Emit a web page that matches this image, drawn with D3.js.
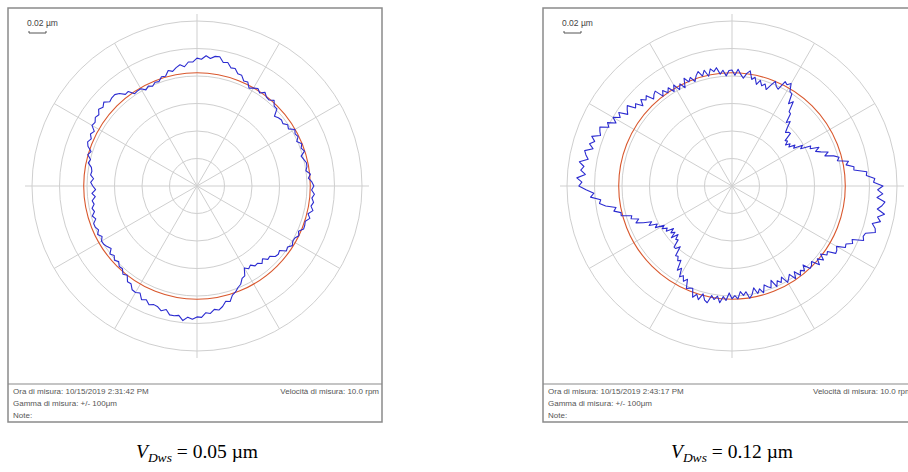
<!DOCTYPE html>
<html><head><meta charset="utf-8">
<script src="https://cdn.jsdelivr.net/npm/d3@7"></script>
<style>body{margin:0;background:#fff}svg{display:block}</style>
</head><body>
<svg id="chart" width="908" height="472"></svg>
<script>
// ---------- data ----------
const ringLevels = [1, 2, 3, 4, 5, 6];
const spokeAngles = [0, 30, 60, 90, 120, 150, 180, 210, 240, 270, 300, 330];
const referenceRadius = [4.12, 4.12];
// radial profile, left panel (2 deg steps, clockwise from top), in ring units
const profileLeft = [
 4.65,4.61,4.75,4.66,4.76,4.77,4.59,4.63,4.47,4.49,4.34,4.34,4.18,4.21,4.03,4.11,4.18,4.08,4.21,4.10,
 4.08,4.19,4.04,4.04,3.79,3.86,3.90,3.86,3.98,3.92,4.11,4.04,4.09,3.97,4.11,4.03,4.11,3.94,4.00,4.07,
 4.06,4.00,4.15,4.06,4.18,4.25,4.17,4.28,4.20,4.28,4.21,4.31,4.16,4.27,4.14,4.17,4.18,4.04,4.12,4.03,
 4.02,4.09,3.97,4.02,3.81,3.86,3.83,3.68,3.71,3.56,3.68,3.57,3.59,3.47,3.55,3.44,3.70,3.74,3.91,3.98,
 4.10,4.17,4.37,4.32,4.48,4.58,4.53,4.66,4.62,4.78,4.76,4.85,4.78,4.92,4.75,4.79,4.79,4.63,4.72,4.62,
 4.59,4.66,4.53,4.60,4.41,4.47,4.45,4.29,4.30,4.12,4.19,4.05,4.07,3.96,4.04,3.93,4.02,3.86,3.94,4.00,
 4.01,3.91,4.02,3.92,3.99,4.00,3.87,3.96,3.84,3.90,3.80,3.85,3.72,3.83,3.69,3.79,3.87,3.77,3.89,3.86,
 3.90,4.04,3.99,4.13,4.05,4.22,4.29,4.21,4.31,4.23,4.41,4.37,4.46,4.41,4.54,4.46,4.56,4.41,4.46,4.47,
 4.39,4.23,4.25,4.05,4.08,4.08,3.96,4.04,3.97,4.07,4.04,4.18,4.15,4.33,4.26,4.37,4.45,4.36,4.52,4.51
];
// radial profile, right panel (1.5 deg steps, clockwise from top), in ring units
const profileRight = [
 4.22,4.03,4.25,4.07,3.94,4.13,4.24,3.94,4.04,3.80,3.98,3.80,3.90,3.72,3.92,4.12,3.96,3.90,4.26,4.19,
 4.30,4.03,4.00,3.63,3.79,3.41,3.38,3.04,3.16,2.92,2.75,2.84,2.86,2.54,2.60,2.45,2.61,2.51,2.73,2.63,
 2.96,2.84,3.21,3.15,3.46,3.29,3.46,3.71,3.55,3.86,4.03,3.94,4.33,4.22,4.49,4.47,4.93,4.90,5.20,5.15,
 5.49,5.30,5.49,5.29,5.59,5.50,5.35,5.64,5.41,5.55,5.28,5.43,5.48,5.15,5.11,5.18,4.78,4.86,4.65,4.69,
 4.39,4.47,4.50,4.21,4.27,4.06,4.28,4.08,4.28,3.99,4.09,4.13,3.86,4.06,3.95,4.09,3.85,4.09,3.83,3.94,
 4.05,3.77,3.94,3.82,4.01,3.71,3.96,3.89,3.78,4.05,3.87,4.02,3.79,4.01,4.13,3.88,4.00,3.85,4.11,3.99,
 4.10,3.89,4.17,4.03,4.27,4.04,4.18,4.05,4.34,4.27,4.06,4.31,4.14,4.29,3.98,4.02,4.08,3.76,3.89,3.71,
 3.81,3.51,3.65,3.28,3.36,3.22,3.26,2.90,3.06,3.06,2.77,2.82,2.64,2.90,2.67,2.80,2.63,2.90,2.81,2.97,
 2.85,3.17,3.05,3.34,3.20,3.49,3.74,3.60,3.86,3.80,4.17,4.15,4.39,4.29,4.65,4.86,4.80,5.16,5.03,5.31,
 5.57,5.46,5.65,5.35,5.53,5.43,5.62,5.32,5.43,5.51,5.23,5.40,5.25,5.41,5.12,5.20,5.26,4.96,5.08,4.80,
 4.99,4.77,4.91,4.60,4.71,4.80,4.51,4.61,4.36,4.57,4.42,4.53,4.26,4.37,4.44,4.12,4.29,4.11,4.26,4.03,
 4.24,3.99,4.17,3.96,4.29,4.10,4.23,4.03,4.22,4.34,4.14,4.33,4.08,4.33,4.21,4.34,4.09,4.22,4.01,4.20
];
const scaleLabel = "0.02 µm";
const timeLabels = ["Ora di misura: 10/15/2019 2:31:42 PM", "Ora di misura: 10/15/2019 2:43:17 PM"];
const rangeLabel = "Gamma di misura: +/- 100μm";
const noteLabel = "Note:";
const speedLabel = "Velocità di misura: 10.0 rpm";
const captionSymbol = "V";
const captionSub = "Dws";
const captionValues = ["0.05", "0.12"];
const captionUnit = "µm";

// ---------- layout ----------
const panels = [
  {x0: 8, x1: 382, cx: 197, cy: 186, profile: profileLeft, step: 2, capX: 197},
  {x0: 543, x1: 918, cx: 732, cy: 186, profile: profileRight, step: 1.5, capX: 732}
];
const frameTop = 8, frameDivider = 384, frameBottom = 422;
const svg = d3.select("#chart");
const r = d3.scaleLinear().domain([0, 6]).range([0, 165]);
const ang = d3.scaleLinear().domain([0, 360]).range([0, 2 * Math.PI]);

panels.forEach((p, i) => {
  const g = svg.append("g");
  g.append("rect").attr("x", p.x0).attr("y", frameTop).attr("width", p.x1 - p.x0).attr("height", frameBottom - frameTop)
    .attr("fill", "#fff").attr("stroke", "#8a8a8a").attr("stroke-width", 1.5);
  g.append("line").attr("x1", p.x0).attr("x2", p.x1).attr("y1", frameDivider).attr("y2", frameDivider)
    .attr("stroke", "#8a8a8a").attr("stroke-width", 1.2);

  const pg = g.append("g").attr("transform", `translate(${p.cx},${p.cy})`);
  pg.selectAll("circle.ring").data(ringLevels).join("circle").attr("class", "ring")
    .attr("r", d => r(d)).attr("fill", "none").attr("stroke", "#cfcfcf").attr("stroke-width", 1);
  pg.selectAll("line.spoke").data(spokeAngles).join("line").attr("class", "spoke")
    .attr("x1", 0).attr("y1", 0)
    .attr("x2", d => Math.sin(ang(d)) * (d % 90 === 0 ? r(6) + 7 : r(6)))
    .attr("y2", d => -Math.cos(ang(d)) * (d % 90 === 0 ? r(6) + 7 : r(6)))
    .attr("stroke", "#cfcfcf").attr("stroke-width", 1);
  pg.append("circle").attr("r", r(referenceRadius[i])).attr("fill", "none")
    .attr("stroke", "#d9582e").attr("stroke-width", 1.1);
  const line = d3.lineRadial().angle((d, k) => ang(k * p.step)).radius(d => r(d)).curve(d3.curveLinearClosed);
  pg.append("path").attr("d", line(p.profile)).attr("fill", "none")
    .attr("stroke", "#2b2bd0").attr("stroke-width", 1.1).attr("stroke-linejoin", "round");

  g.append("text").attr("x", p.x0 + 19).attr("y", 26).text(scaleLabel)
    .attr("font-family", "Liberation Sans, Arial, sans-serif").attr("font-size", 8.5).attr("fill", "#444");
  g.append("path").attr("d", `M${p.x0 + 21},31 V33 H${p.x0 + 38} V31`).attr("fill", "none")
    .attr("stroke", "#555").attr("stroke-width", 1);

  const ft = {"font-family": "Liberation Sans, Arial, sans-serif", "font-size": 8, fill: "#555"};
  const addT = (x, y, s, anchor) => {
    const t = g.append("text").attr("x", x).attr("y", y).text(s).attr("text-anchor", anchor || "start");
    Object.entries(ft).forEach(([k, v]) => t.attr(k, v));
  };
  addT(p.x0 + 5, 394, timeLabels[i]);
  addT(p.x0 + 5, 406, rangeLabel);
  addT(p.x0 + 5, 418, noteLabel);
  if (i === 0) addT(p.x1 - 3, 394, speedLabel, "end");
  else addT(p.x0 + 270, 394, speedLabel);

  const cap = svg.append("text").attr("x", p.capX).attr("y", 458).attr("text-anchor", "middle")
    .attr("font-family", "Liberation Serif, Times New Roman, serif").attr("font-size", 19.5).attr("fill", "#000");
  cap.append("tspan").attr("font-style", "italic").text(captionSymbol);
  cap.append("tspan").attr("font-style", "italic").attr("font-size", 13.5).attr("dy", 4).text(captionSub);
  cap.append("tspan").attr("dy", -4).text(` = ${captionValues[i]} ${captionUnit}`);
});
</script>
</body></html>
